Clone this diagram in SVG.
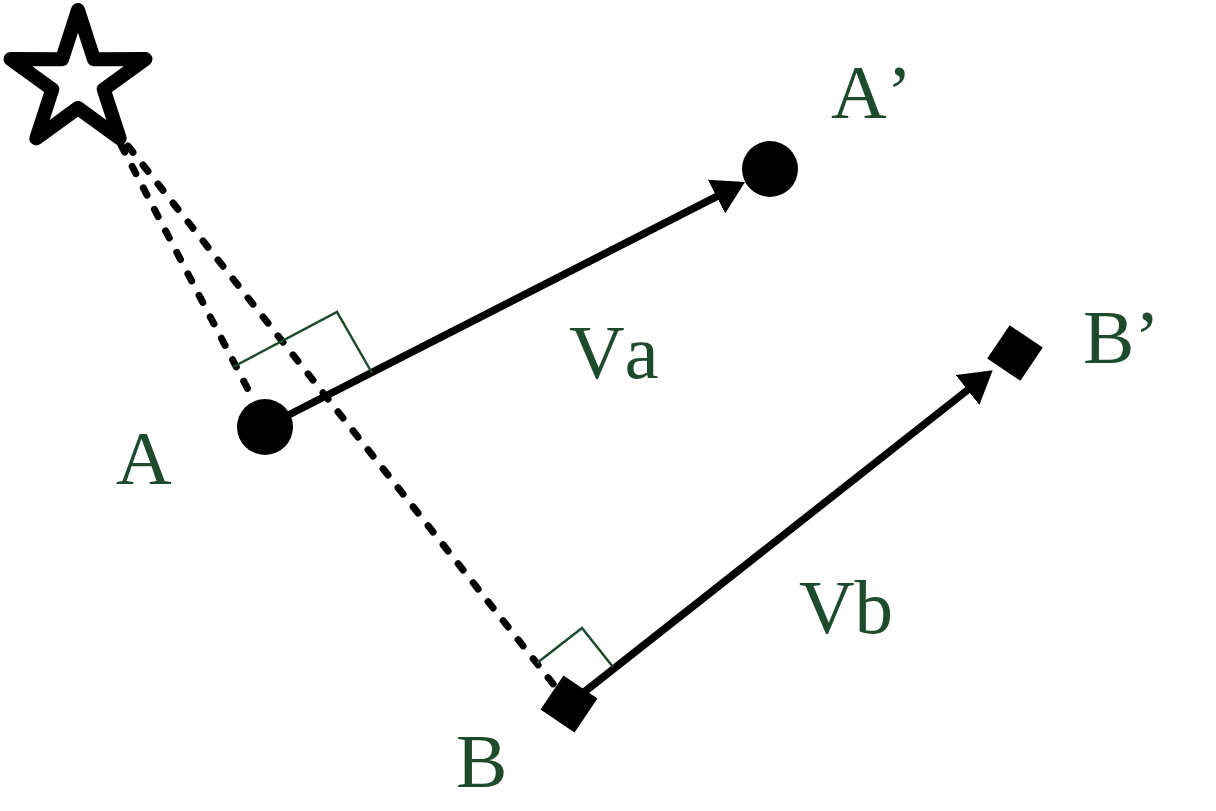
<svg xmlns="http://www.w3.org/2000/svg" width="1216" height="811" viewBox="0 0 1216 811">
  <defs>
    <style>
      .vec { stroke: #000; stroke-width: 7.5; fill: none; }
      .dash { stroke: #000; stroke-width: 7; fill: none; stroke-dasharray: 8 16.2; stroke-linecap: round; }
      .ra { stroke: #1d4b2c; stroke-width: 2.5; fill: none; }
      .lbl { font-family: "Liberation Serif", "Times New Roman", serif; font-size: 77px; fill: #1d4b2c; font-kerning: none; }
      .pt { fill: #000; }
    </style>
    <marker id="arrow" markerUnits="userSpaceOnUse" viewBox="0 0 32 38" refX="12" refY="19" markerWidth="32" markerHeight="38" orient="auto">
      <path d="M0,0 L32,19 L0,38 Z" fill="#000"/>
    </marker>
  </defs>
  <rect width="1216" height="811" fill="#fff"/>

  <g id="connectors">
    <line id="ray-a" class="dash" x1="121" y1="145" x2="254" y2="401"/>
    <line id="ray-b" class="dash" x1="128" y1="146" x2="554" y2="685"/>
    <line id="vec-a" class="vec" x1="265" y1="427" x2="727.2" y2="191.1" marker-end="url(#arrow)"/>
    <line id="vec-b" class="vec" x1="569" y1="704" x2="977" y2="382.6" marker-end="url(#arrow)"/>
    <polyline id="right-angle-a" class="ra" points="233,367 337,312 372,373"/>
    <polyline id="right-angle-b" class="ra" points="537,663 582,628 613,667"/>
    <text id="label-va" class="lbl" x="569" y="378">Va</text>
    <text id="label-vb" class="lbl" x="799" y="633">Vb</text>
  </g>

  <g id="node-star">
    <polygon points="78,10 93.9,59.2 145.5,59.1 103.7,89.3 119.7,138.4 78,108 36.3,138.4 52.3,89.3 10.5,59.1 62.1,59.2" fill="#fff" stroke="#000" stroke-width="14" stroke-linejoin="round"/>
  </g>

  <g id="node-a">
    <circle class="pt" cx="265" cy="427" r="28"/>
    <text class="lbl" x="116" y="484">A</text>
  </g>

  <g id="node-a-prime">
    <circle class="pt" cx="770" cy="169" r="28"/>
    <text class="lbl" x="831" y="118">A’</text>
  </g>

  <g id="node-b">
    <rect class="pt" x="-20.5" y="-20.5" width="41" height="41" transform="translate(569,704) rotate(34)"/>
    <text class="lbl" x="456" y="787">B</text>
  </g>

  <g id="node-b-prime">
    <rect class="pt" x="-20" y="-20" width="40" height="40" transform="translate(1015,353) rotate(34)"/>
    <text class="lbl" x="1083" y="363">B’</text>
  </g>
</svg>
